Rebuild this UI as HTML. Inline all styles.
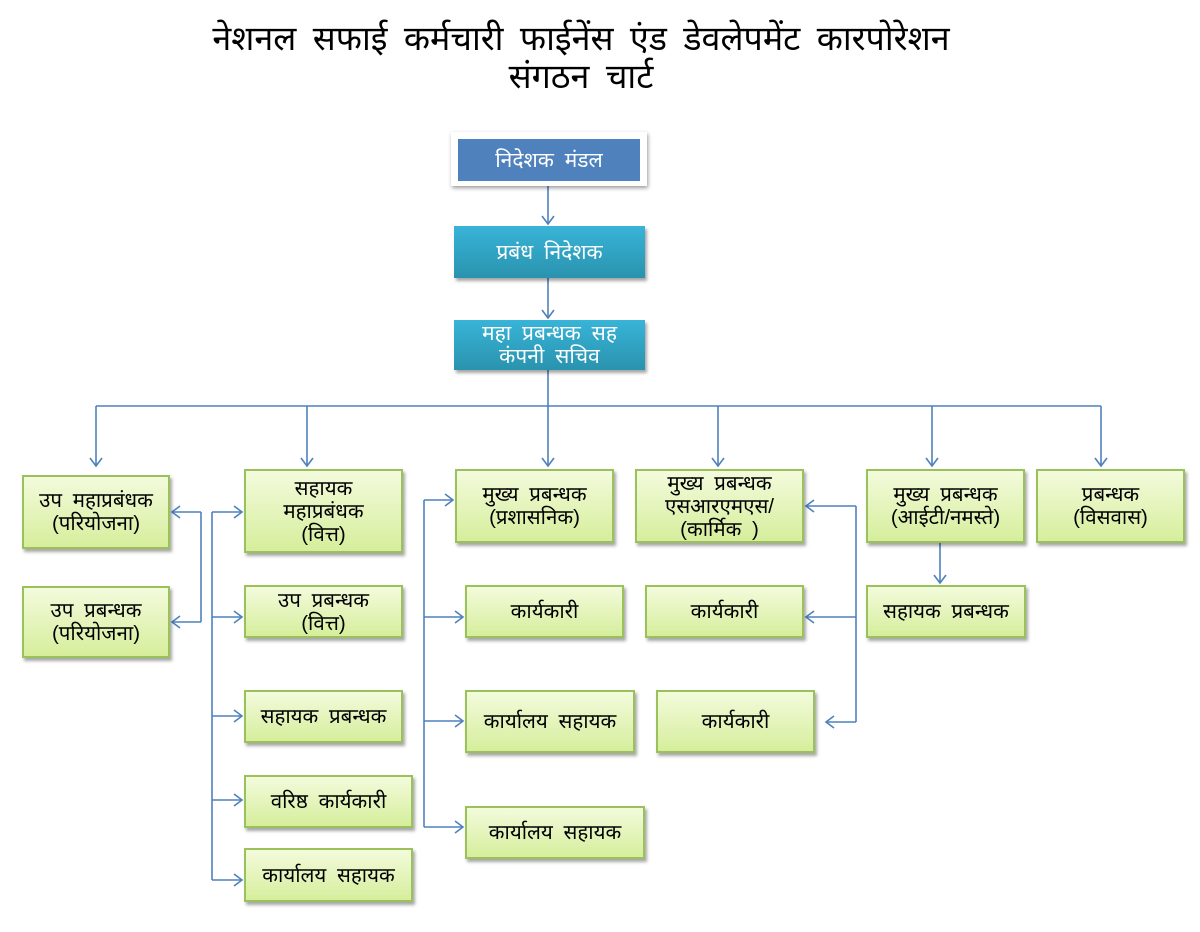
<!DOCTYPE html>
<html><head><meta charset="utf-8"><style>
body{margin:0;width:1200px;height:932px;background:#fff;position:relative;overflow:hidden;font-family:"Liberation Sans","Noto Sans CJK SC",sans-serif;}
.t{position:absolute;left:0;width:1162px;text-align:center;font-size:34px;word-spacing:7px;color:#000;line-height:38px}
.b{position:absolute;box-sizing:border-box;display:flex;align-items:center;justify-content:center;text-align:center;font-size:20.5px;word-spacing:5px;line-height:23px;color:#000}
.g{background:linear-gradient(#f3fbdc,#d6ee9c);border:2px solid #9bc25a;box-shadow:2px 3px 3px rgba(0,0,0,0.35)}
.c{background:linear-gradient(#38b4d8,#2a93ae);color:#fff;box-shadow:2px 3px 3px rgba(0,0,0,0.35);font-size:21px}
svg{position:absolute;left:0;top:0}
</style></head><body>
<div class="t" style="top:20px">नेशनल सफाई कर्मचारी फाईनेंस एंड डेवलेपमेंट कारपोरेशन</div>
<div class="t" style="top:58px">संगठन चार्ट</div>
<svg width="1200" height="932" fill="none" stroke="#4f81bd" stroke-width="1.6">
<path d="M548 186V224M548 278V318M548 370V406M96 406H1101M96 406V466M307 406V466M548 406V466M718 406V466M932 406V466M1101 406V466"/>
<path d="M201 512V622M201 512H172M201 622H172"/>
<path d="M212 512V880M212 512H242M212 617H242M212 716H242M212 800H242M212 880H242"/>
<path d="M424 500V827M424 500H453M424 617H463M424 721H463M424 827H463"/>
<path d="M856 506V722M856 506H806M856 617H806M856 722H826"/>
<path d="M940 543V583"/>
<path d="M542 216L548 224L554 216M542 310L548 318L554 310M90 458L96 466L102 458M301 458L307 466L313 458M542 458L548 466L554 458M712 458L718 466L724 458M926 458L932 466L938 458M1095 458L1101 466L1107 458M934 575L940 583L946 575"/>
<path d="M180 506L172 512L180 518M180 616L172 622L180 628M814 500L806 506L814 512M814 611L806 617L814 623M834 716L826 722L834 728"/>
<path d="M234 506L242 512L234 518M234 611L242 617L234 623M234 710L242 716L234 722M234 794L242 800L234 806M234 874L242 880L234 886M445 494L453 500L445 506M455 611L463 617L455 623M455 715L463 721L455 727M455 821L463 827L455 833"/>
</svg>
<div class="b" style="left:451px;top:132px;width:196px;height:54px;background:#fff;box-shadow:1px 2px 4px rgba(0,0,0,0.4)"></div>
<div class="b" style="left:458px;top:139px;width:182px;height:42px;background:#4f81bd;color:#fff;font-size:21px">निदेशक मंडल</div>
<div class="b c" style="left:454px;top:226px;width:191px;height:52px">प्रबंध निदेशक</div>
<div class="b c" style="left:454px;top:320px;width:191px;height:50px">महा प्रबन्धक सह<br>कंपनी सचिव</div>
<div class="b g" style="left:22px;top:475px;width:148px;height:74px">उप महाप्रबंधक<br>(परियोजना)</div>
<div class="b g" style="left:22px;top:586px;width:148px;height:72px">उप प्रबन्धक<br>(परियोजना)</div>
<div class="b g" style="left:244px;top:469px;width:159px;height:84px">सहायक<br>महाप्रबंधक<br>(वित्त)</div>
<div class="b g" style="left:244px;top:585px;width:159px;height:53px">उप प्रबन्धक<br>(वित्त)</div>
<div class="b g" style="left:244px;top:690px;width:159px;height:53px">सहायक प्रबन्धक</div>
<div class="b g" style="left:244px;top:775px;width:169px;height:53px">वरिष्ठ कार्यकारी</div>
<div class="b g" style="left:244px;top:848px;width:169px;height:54px">कार्यालय सहायक</div>
<div class="b g" style="left:455px;top:469px;width:159px;height:74px">मुख्य प्रबन्धक<br>(प्रशासनिक)</div>
<div class="b g" style="left:465px;top:585px;width:159px;height:53px">कार्यकारी</div>
<div class="b g" style="left:465px;top:690px;width:170px;height:63px">कार्यालय सहायक</div>
<div class="b g" style="left:465px;top:806px;width:180px;height:53px">कार्यालय सहायक</div>
<div class="b g" style="left:635px;top:469px;width:169px;height:74px">मुख्य प्रबन्धक<br>एसआरएमएस/<br>(कार्मिक )</div>
<div class="b g" style="left:645px;top:585px;width:159px;height:53px">कार्यकारी</div>
<div class="b g" style="left:656px;top:690px;width:159px;height:63px">कार्यकारी</div>
<div class="b g" style="left:866px;top:469px;width:159px;height:74px">मुख्य प्रबन्धक<br>(आईटी/नमस्ते)</div>
<div class="b g" style="left:866px;top:585px;width:160px;height:53px">सहायक प्रबन्धक</div>
<div class="b g" style="left:1036px;top:469px;width:149px;height:74px">प्रबन्धक<br>(विसवास)</div>
</body></html>
